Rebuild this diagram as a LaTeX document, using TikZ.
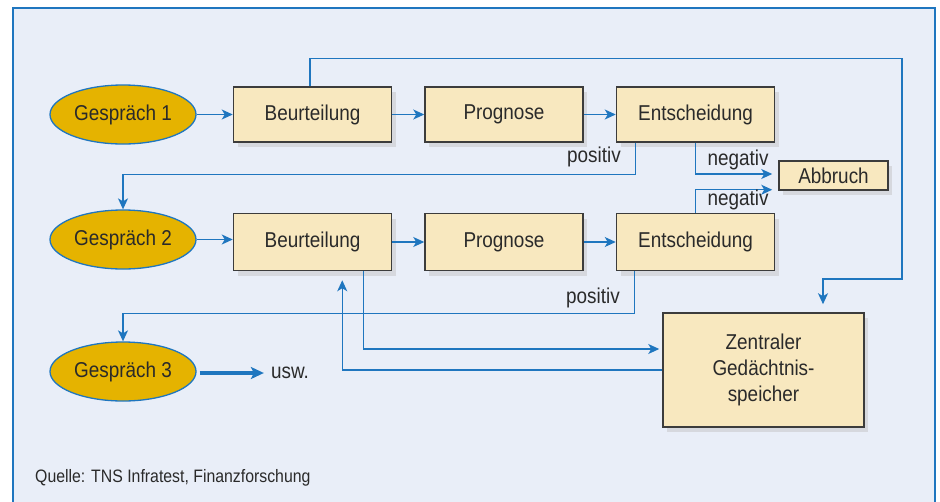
\documentclass[tikz,border=0pt]{standalone}
\usepackage{fontspec}
\setmainfont{Liberation Sans}[FakeStretch=0.88]
\usetikzlibrary{shapes.geometric,arrows.meta,shadows}
\definecolor{bgblue}{HTML}{E9EEF8}
\definecolor{lineblue}{HTML}{1F76BF}
\definecolor{boxfill}{HTML}{F8E8BF}
\definecolor{ellfill}{HTML}{E5B300}
\definecolor{boxline}{HTML}{3C3C3C}
\definecolor{shade}{HTML}{D6D8DE}
\definecolor{txt}{HTML}{2A2A2A}
\begin{document}
\begin{tikzpicture}[x=1pt,y=-1pt,
  every node/.style={text=txt, font=\fontsize{21.5}{26}\selectfont},
  stepbox/.style={draw=boxline, line width=1.5pt, fill=boxfill, minimum width=158pt, minimum height=55pt, inner sep=0pt,
    drop shadow={shadow xshift=4pt, shadow yshift=-5pt, fill=shade, opacity=1}},
  talk/.style={ellipse, draw=lineblue, line width=1.3pt, fill=ellfill, minimum width=146pt, minimum height=59pt, inner sep=0pt},
  conn/.style={draw=lineblue, line width=1.4pt, -{Stealth[length=11pt,width=10pt,inset=3pt]}},
  lbl/.style={inner sep=0pt}
]
\useasboundingbox (0,0) rectangle (940,501);
\fill[white] (0,0) rectangle (940,501);
\draw[lineblue, line width=1.4pt, fill=bgblue] (13,8) rectangle (935,520);

% row 1
\node[talk] (e1) at (123,114.5) {Gespräch 1};
\node[stepbox] (b1) at (312.5,114.5) {Beurteilung};
\node[stepbox] (p1) at (504,114.5) {Prognose};
\node[stepbox] (n1) at (695.5,114.5) {Entscheidung};
\node[stepbox, minimum width=109pt, minimum height=29pt] (ab) at (833.5,175.5) {Abbruch};
% row 2
\node[talk] (e2) at (123,239.5) {Gespräch 2};
\node[stepbox, minimum height=57pt] (b2) at (312.5,242) {Beurteilung};
\node[stepbox, minimum height=57pt] (p2) at (504,242) {Prognose};
\node[stepbox, minimum height=57pt] (n2) at (695.5,242) {Entscheidung};
% row 3
\node[talk] (e3) at (123,371.5) {Gespräch 3};
\node[lbl] (usw) at (290,373) {usw.};
\node[stepbox, minimum width=201pt, minimum height=114pt, align=center] (zm) at (763.5,370) {Zentraler\\Gedächtnis-\\speicher};
\node[lbl, anchor=west, font=\fontsize{18}{22}\selectfont] (src) at (35,478) {Quelle: TNS Infratest, Finanzforschung};

% connectors row 1
\draw[conn] (e1.east) -- (b1.west);
\draw[conn] (b1.east) -- (p1.west);
\draw[conn] (p1.east) -- (n1.west);
% row 2
\draw[conn] (e2.east) -- (e2.east -| b2.west);
\draw[conn] (b2.east) -- (p2.west);
\draw[conn] (p2.east) -- (n2.west);

% top loop to memory
\draw[conn] ([xshift=-2.5pt]b1.north) -- ++(0,-28) -| (902,279) -| ([xshift=59.5pt,yshift=8pt]zm.north);

% positiv 1
\draw[conn] ([xshift=20pt]n1.south west) -- ++(0,32) -| (e2.north);
\node[lbl] (pos1) at (594,157) {positiv};
% negativ 1
\draw[conn] (n1.south) |- ([xshift=-6pt,yshift=1.5pt]ab.west);
\node[lbl] (neg1) at (738,160) {negativ};
% negativ 2
\draw[conn] (n2.north) |- ([xshift=-6pt,yshift=1pt]ab.south west);
\node[lbl] (neg2) at (738,200) {negativ};
% positiv 2
\draw[conn] ([xshift=19pt]n2.south west) -- ++(0,42) -| (e3.north);
\node[lbl] (pos2) at (593,298) {positiv};

% memory exchange
\draw[conn] ([xshift=-29pt]b2.south east) |- ([xshift=-3pt,yshift=21pt]zm.west);
\draw[conn] (zm.west) -| ([xshift=-50pt,yshift=-9pt]b2.south east);

% usw
\draw[lineblue, line width=3.5pt, -{Stealth[length=13pt,width=12pt,inset=3pt]}] ([xshift=3pt]e3.east |- usw.west) -- ([xshift=-7pt]usw.west);
\end{tikzpicture}
\end{document}
